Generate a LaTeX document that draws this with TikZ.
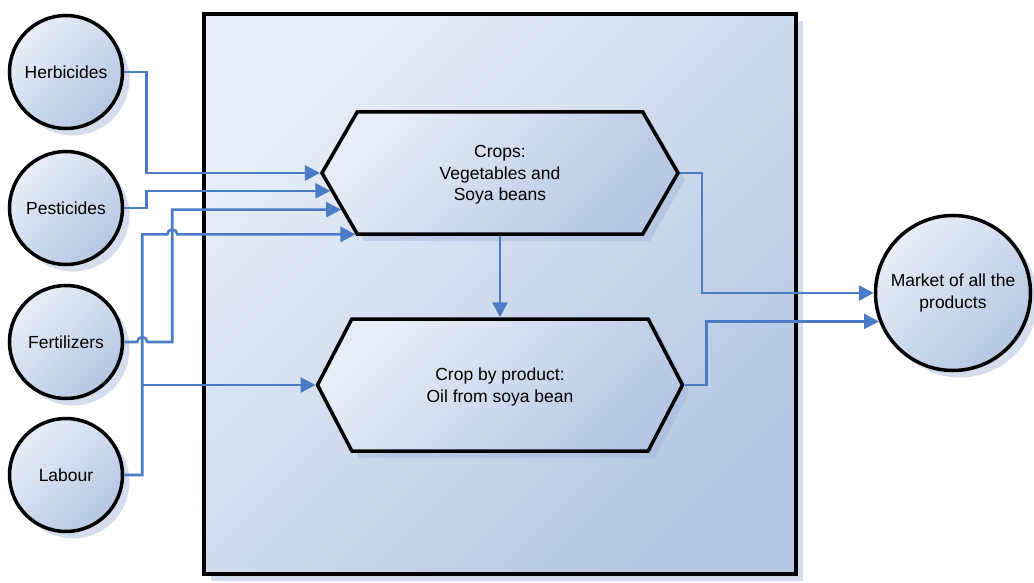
\documentclass[tikz,border=0pt]{standalone}
\usepackage{fontspec}
\setmainfont{Liberation Sans}
\usetikzlibrary{shapes.symbols,shadows,arrows.meta,calc}
\definecolor{connc}{HTML}{4A7BC4}
\definecolor{lightf}{HTML}{E8EEF8}
\definecolor{darkf}{HTML}{B5C7E2}
\definecolor{shad}{HTML}{9EB4DA}
\begin{document}
\begin{tikzpicture}[x=1pt,y=-1pt,
  lbl/.style={font=\fontsize{17.5}{21.5}\selectfont, align=center, text=black},
  shadowed/.style={drop shadow={shadow xshift=7pt, shadow yshift=-7pt, fill=shad, opacity=0.45}},
  filled/.style={top color=lightf, bottom color=darkf, shading angle=45},
  ball/.style={circle, draw=black, line width=3.5pt, minimum size=113pt, inner sep=0pt, shadowed, filled, lbl},
  hexa/.style={signal, signal to=east and west, draw=black, line width=3.5pt, inner sep=0pt, shadowed, filled, lbl},
  frame/.style={rectangle, draw=black, line width=4pt, inner sep=0pt, shadowed, filled},
  conn/.style={draw=connc, line width=2.6pt, -{Triangle[length=15pt,width=15pt]}}
]
\useasboundingbox (0,0) rectangle (1034,583);

\node[frame, minimum width=592pt, minimum height=560pt] (box) at (500,294) {};

\node[ball] (herb) at (66,72) {Herbicides};
\node[ball] (pest) at (66,208) {Pesticides};
\node[ball] (fert) at (66,342) {Fertilizers};
\node[ball] (lab) at (66,475) {Labour};
\node[ball, minimum size=155pt] (market) at (953,293) {Market of all the\\products};

\node[hexa, minimum width=356pt, minimum height=122pt, signal pointer angle=120] (crops) at (500,173) {};
\node[lbl] (cropstext) at (500,175) {Crops:\\Vegetables and\\Soya beans};
\node[hexa, minimum width=365pt, minimum height=132pt, signal pointer angle=125] (byprod) at (500,385) {};
\node[lbl] (byprodtext) at (500,387) {Crop by product:\\Oil from soya bean};

% inputs
\draw[conn] (herb.east) -- ++(22,0) |- (crops.west);
\draw[conn] (pest.east) -- ++(22,0) |- (crops.186.4);
\draw[conn] (fert.east) -- ++(13,0) arc[start angle=180, end angle=0, radius=5pt] -- ++(25,0) |- (crops.193.5);
\draw[conn] (lab.east) -- ++(18,0) coordinate (lv) -- (lv |- crops.203) -- ++(25,0) arc[start angle=180, end angle=0, radius=5pt] -- (crops.203);
\draw[conn] (lv |- byprod.west) -- (byprod.west);

% internal
\draw[conn] (crops.south) -- (byprod.north);

% outputs
\draw[conn] (crops.east) -- ++(22,0) |- (market.west);
\draw[conn] (byprod.east) -- ++(22,0) |- (market.201);
\end{tikzpicture}
\end{document}
